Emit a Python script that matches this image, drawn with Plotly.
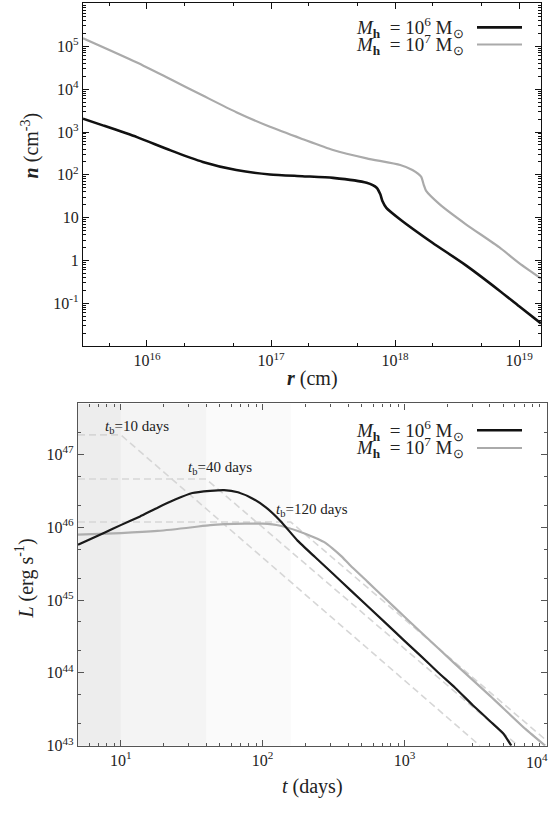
import math
import plotly.graph_objects as go

# ---- top panel: density profile n(r)
r_1e6 = [3.05e15, 4.47e15, 8.3e15, 1.55e16, 2.82e16, 5.25e16, 9.8e16, 1.78e17, 3.16e17,
         5.9e17, 7.1e17, 7.6e17, 7.9e17, 8.5e17, 1.1e18, 2.0e18, 3.7e18, 6.9e18, 1.0e19, 1.5e19]
n_1e6 = [2040, 1410, 760, 372, 200, 129, 102, 93, 85,
         65, 50, 35, 24.5, 17, 9.1, 2.6, 0.78, 0.20, 0.085, 0.034]

r_1e7 = [3.05e15, 8.3e15, 1.55e16, 2.82e16, 5.25e16, 9.8e16, 1.78e17, 3.16e17, 5.9e17,
         1.1e18, 1.38e18, 1.62e18, 1.7e18, 1.78e18, 2.29e18, 3.7e18, 6.9e18, 1.0e19, 1.5e19]
n_1e7 = [1.55e5, 4.2e4, 1.7e4, 7.1e3, 2.9e3, 1.32e3, 690, 380, 243,
         170, 130, 91, 59, 42, 20.4, 7.1, 2.04, 0.87, 0.38]

# ---- bottom panel: luminosity L(t)
t_1e6 = [5.0, 7.74, 10, 13.7, 18.2, 24.2, 32, 42.7, 53.5, 67, 84, 106, 133, 177, 234,
         312, 414, 731, 1000, 1290, 1720, 2280, 3030, 4030, 5000, 5660]
L_1e6 = [5.75e45, 8.5e45, 1.07e46, 1.41e46, 1.86e46, 2.4e46, 2.95e46, 3.16e46, 3.24e46,
         3.02e46, 2.51e46, 1.86e46, 1.23e46, 6.5e45, 3.9e45, 2.32e45, 1.38e45, 4.9e44,
         2.75e44, 1.74e44, 1.02e44, 6.2e43, 3.6e43, 2.15e43, 1.45e43, 1.0e43]

t_1e7 = [5.0, 10, 18.2, 32, 42.7, 75, 100, 133, 177, 234, 270, 312, 360, 414, 550, 731, 1000,
         1290, 2280, 4030, 7110, 9800]
L_1e7 = [7.9e45, 8.3e45, 8.9e45, 1.0e46, 1.07e46, 1.12e46, 1.12e46, 1.05e46, 8.9e45,
         7.2e45, 6.3e45, 5.1e45, 3.98e45, 3.0e45, 1.78e45, 1.05e45, 5.9e44,
         3.7e44, 1.32e44, 4.8e43, 1.7e43, 1.0e43]

# broken power-law guides: flat up to t_b, then decline
tb_labels = ["10", "40", "120"]
tb_start = [5.0, 5.0, 5.0]
tb_break = [10, 40, 158]
tb_end = [3400, 6300, 10100]
tb_level = [1.86e47, 4.6e46, 1.18e46]
tb_end_level = [1.0e43, 1.0e43, 1.16e43]
shade_colors = ["#ededed", "#f4f4f4", "#fafafa"]

serif = "Liberation Serif"
BLACK = "#111111"
GREY = "#aaaaaa"

fig = go.Figure()

fig.add_trace(go.Scatter(x=r_1e6, y=n_1e6, mode="lines", line=dict(color=BLACK, width=2.6, shape="spline", smoothing=0.6),
                         xaxis="x", yaxis="y", showlegend=False))
fig.add_trace(go.Scatter(x=r_1e7, y=n_1e7, mode="lines", line=dict(color=GREY, width=2.2, shape="spline", smoothing=0.6),
                         xaxis="x", yaxis="y", showlegend=False))

# shaded zones (widest first so darker ones sit on top)
for i in [2, 1, 0]:
    fig.add_trace(go.Scatter(x=[tb_start[i], tb_break[i], tb_break[i], tb_start[i]],
                             y=[1e43, 1e43, 5e47, 5e47], fill="toself", fillcolor=shade_colors[i],
                             mode="none", xaxis="x2", yaxis="y2", showlegend=False, hoverinfo="skip"))

for i in range(3):
    fig.add_trace(go.Scatter(x=[tb_start[i], tb_break[i], tb_end[i]],
                             y=[tb_level[i], tb_level[i], tb_end_level[i]], mode="lines",
                             line=dict(color="#d6d6d6", width=1.6, dash="7px,4px"),
                             xaxis="x2", yaxis="y2", showlegend=False))

fig.add_trace(go.Scatter(x=t_1e7, y=L_1e7, mode="lines", line=dict(color="#aeaeae", width=2.2, shape="spline", smoothing=0.5),
                         xaxis="x2", yaxis="y2", showlegend=False))
fig.add_trace(go.Scatter(x=t_1e6, y=L_1e6, mode="lines", line=dict(color="#1a1a1a", width=2.2, shape="spline", smoothing=0.4),
                         xaxis="x2", yaxis="y2", showlegend=False))


def sup(e):
    return "10<sup>%s</sup>" % e


axis_common = dict(type="log", showgrid=False, zeroline=False, showline=True, mirror="ticks",
                   ticks="inside", ticklen=6, tickwidth=1, tickfont=dict(family=serif, size=16, color="#222"),
                   tickmode="array")

fig.update_layout(
    width=550, height=815, margin=dict(l=0, r=0, t=0, b=0),
    paper_bgcolor="white", plot_bgcolor="white",
    font=dict(family=serif, color="#222"),
    xaxis=dict(axis_common, domain=[83 / 550, 541 / 550], anchor="y",
               range=[math.log10(3.05e15), math.log10(1.5e19)],
               tickvals=[1e16, 1e17, 1e18, 1e19], ticktext=[sup(16), sup(17), sup(18), sup(19)],
               linecolor="#111", linewidth=1.3, tickcolor="#111",
               minor=dict(ticks="inside", ticklen=3, dtick="D2", tickcolor="#111")),
    yaxis=dict(axis_common, domain=[1 - 350 / 815, 1 - 2.7 / 815], anchor="x",
               range=[-2, 6.02],
               tickvals=[0.1, 1, 10, 100, 1e3, 1e4, 1e5],
               ticktext=[sup("-1"), "1", "10", sup(2), sup(3), sup(4), sup(5)],
               linecolor="#111", linewidth=1.3, tickcolor="#111",
               minor=dict(ticks="inside", ticklen=3, dtick="D1", tickcolor="#111")),
    xaxis2=dict(axis_common, domain=[78 / 550, 547 / 550], anchor="y2",
                range=[math.log10(5.0), math.log10(10100)],
                tickvals=[10, 100, 1e3, 1e4], ticktext=[sup(1), sup(2), sup(3), sup(4)],
                linecolor="#555", linewidth=1.3, tickcolor="#555",
                minor=dict(ticks="inside", ticklen=3, dtick="D1", tickcolor="#555")),
    yaxis2=dict(axis_common, domain=[1 - 754 / 815, 1 - 408 / 815], anchor="x2",
                range=[43, 47.7],
                tickvals=[1e43, 1e44, 1e45, 1e46, 1e47], ticktext=[sup(43), sup(44), sup(45), sup(46), sup(47)],
                linecolor="#555", linewidth=1.3, tickcolor="#555",
                minor=dict(ticks="inside", ticklen=3, dtick="D2", tickcolor="#555")),
)

ann = []
title_font = dict(family=serif, size=20, color="#222")
mid = dict(xref="paper", yref="paper", showarrow=False, xanchor="center", yanchor="middle", font=title_font)
ann.append(dict(mid, text="<b><i>r</i></b> (cm)", x=312 / 550, y=1 - 383 / 815))
ann.append(dict(mid, text="<b><i>n</i></b> (cm<sup>-3</sup>)", x=30 / 550, y=1 - 147 / 815, textangle=-90))
ann.append(dict(mid, text="<i>t</i> (days)", x=312 / 550, y=1 - 795 / 815))
ann.append(dict(mid, text="<i>L</i> (erg s<sup>-1</sup>)", x=25 / 550, y=1 - 585 / 815, textangle=-90))

# last tick label of the bottom axis sits at the page edge: pin it inside
ann.append(dict(text=sup(4), x=1, y=1 - 770 / 815, xref="paper", yref="paper", xanchor="right",
                yanchor="middle", showarrow=False, font=dict(family=serif, size=16, color="#222")))

# legends: text on the left, line sample on the right
legend_font = dict(family=serif, size=19, color="#222")
legend_rows = [("6", BLACK, 2.6, 27.7, 435), ("7", GREY, 2.2, 45, 453)]
for exp, col, w, ytop, ybot in legend_rows:
    label = "<i>M</i><sub><b>h</b></sub>  = 10<sup>%s</sup> M<sub>⊙</sub>" % exp
    for yy in [ytop, ybot]:
        ann.append(dict(text=label, x=466 / 550, y=1 - yy / 815, xref="paper", yref="paper",
                        xanchor="right", yanchor="middle", showarrow=False, font=legend_font))
        fig.add_shape(type="line", xref="paper", yref="paper", x0=477 / 550, x1=522 / 550,
                      y0=1 - yy / 815, y1=1 - yy / 815, line=dict(color=col, width=w))

# t_b labels
tb_label_pos = [(13, 2.4e47), (50, 6.6e46), (222, 1.75e46)]
for lab, (lx, ly) in zip(tb_labels, tb_label_pos):
    ann.append(dict(text="<i>t</i><sub>b</sub>=%s days" % lab, x=math.log10(lx), y=math.log10(ly),
                    xref="x2", yref="y2", showarrow=False, font=dict(family=serif, size=15, color="#222")))

fig.update_layout(annotations=ann)
fig.write_html("out.html", config={"displayModeBar": False},
               post_script="document.body.style.margin='0px';"
                           "document.body.style.overflow='hidden';"
                           "document.documentElement.style.overflow='hidden';")
